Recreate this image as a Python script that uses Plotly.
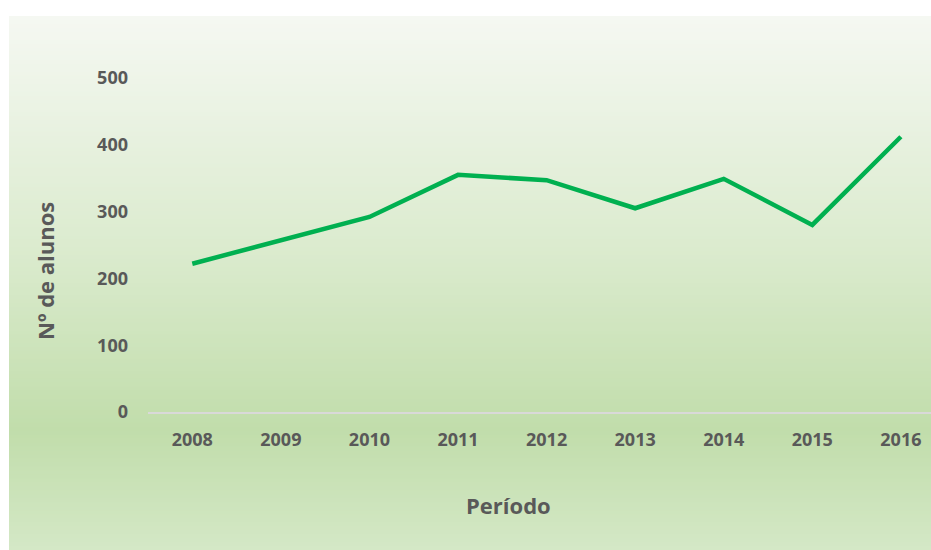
import plotly.graph_objects as go

# Data
anos = ["2008", "2009", "2010", "2011", "2012", "2013", "2014", "2015", "2016"]
alunos = [222, 257, 292, 355, 347, 305, 349, 280, 412]
y_ticks = [0, 100, 200, 300, 400, 500]

W, H = 931, 550
L, R, T, B = 148, 0, 78, 138
pw, ph = W - L - R, H - T - B

TEXT = "#595959"
FONT = "Open Sans"


def hex_to_rgb(h):
    h = h.lstrip("#")
    return tuple(int(h[i:i + 2], 16) for i in (0, 2, 4))


# vertical gradient stops: (pixel y from top, colour)
stops = [(16, "#F5F8F2"), (250, "#DBEBCE"), (430, "#C1DDAB"), (550, "#D4E8C6")]


def color_at(py):
    for (y0, c0), (y1, c1) in zip(stops[:-1], stops[1:]):
        if y0 <= py <= y1:
            t = (py - y0) / (y1 - y0)
            a, b = hex_to_rgb(c0), hex_to_rgb(c1)
            return "rgb(%d,%d,%d)" % tuple(round(a[i] + (b[i] - a[i]) * t) for i in range(3))
    return stops[-1][1]


def px_x(x):
    return (x - L) / pw


def px_y(y):
    return (H - B - y) / ph


shapes = []
top_px, bot_px, left_px = 16, 550, 9
n = 134
step = (bot_px - top_px) / n
for i in range(n):
    y0 = top_px + i * step
    y1 = y0 + step + 0.8
    shapes.append(dict(
        type="rect", xref="paper", yref="paper", layer="below",
        x0=px_x(left_px), x1=px_x(W + 2),
        y0=px_y(min(y1, bot_px)), y1=px_y(y0),
        fillcolor=color_at(y0 + step / 2), line=dict(width=0),
    ))

fig = go.Figure()
fig.add_trace(go.Scatter(
    x=anos, y=alunos, mode="lines",
    line=dict(color="#00B050", width=4.5),
    hoverinfo="x+y",
))

fig.update_layout(
    width=W, height=H,
    margin=dict(l=L, r=R, t=T, b=B),
    paper_bgcolor="white",
    plot_bgcolor="rgba(0,0,0,0)",
    showlegend=False,
    shapes=shapes,
    font=dict(family=FONT, color=TEXT),
    xaxis=dict(
        type="category", range=[-0.5, 8.34],
        showgrid=False, zeroline=False,
        showline=True, linecolor="#D9D9D9", linewidth=1.5,
        ticks="", ticklabelstandoff=11,
        tickfont=dict(family=FONT, size=18, color=TEXT, weight="bold"),
    ),
    yaxis=dict(
        range=[0, 500], tickvals=y_ticks,
        showgrid=False, zeroline=False, showline=False,
        ticks="", ticklabelstandoff=19,
        tickfont=dict(family=FONT, size=18, color=TEXT, weight="bold"),
    ),
    annotations=[
        dict(text="Nº de alunos", xref="paper", yref="paper",
             x=px_x(45), y=px_y(271), xanchor="center", yanchor="middle",
             textangle=-90, showarrow=False,
             font=dict(family=FONT, size=22, color=TEXT, weight="bold")),
        dict(text="Período", xref="paper", yref="paper",
             x=px_x(508), y=px_y(505), xanchor="center", yanchor="middle",
             showarrow=False,
             font=dict(family=FONT, size=22, color=TEXT, weight="bold")),
    ],
)

fig.write_html("out.html")
